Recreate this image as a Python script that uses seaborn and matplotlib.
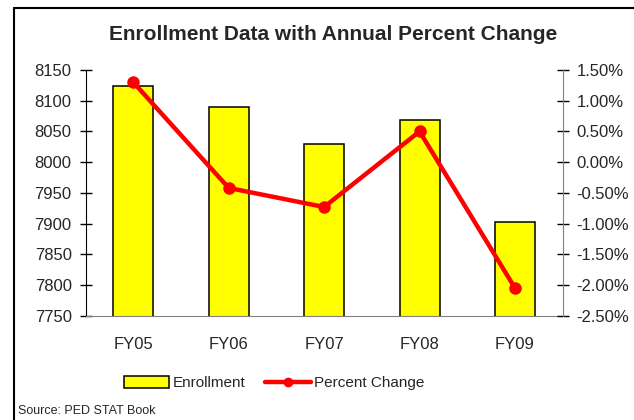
import numpy as np
import pandas as pd
import matplotlib
matplotlib.use('Agg')
import matplotlib.pyplot as plt
import seaborn as sns
from matplotlib.lines import Line2D
from matplotlib.patches import Patch
from matplotlib.ticker import FuncFormatter, MultipleLocator

# data
years = ['FY05', 'FY06', 'FY07', 'FY08', 'FY09']
enrollment = [8124, 8089, 8029, 8068, 7902]
pct_change = [1.30, -0.42, -0.73, 0.50, -2.05]

sns.set_style('white')
plt.rcParams['font.family'] = ['Liberation Sans', 'DejaVu Sans']

df = pd.DataFrame({'Year': years, 'Enrollment': enrollment, 'Pct': pct_change})
df['pos'] = np.arange(len(df))

fig = plt.figure(figsize=(6.34, 4.2), dpi=100)
ax = fig.add_axes([0.135, 0.2483, 0.7525, 0.585])

sns.barplot(data=df, x='Year', y='Enrollment', color='#ffff00', edgecolor='black',
            linewidth=1.1, width=0.42, saturation=1, ax=ax)
ax.set_ylim(7750, 8150)
ax.yaxis.set_major_locator(MultipleLocator(50))
ax.set_xlim(-0.5, 4.5)
ax.set_xlabel('')
ax.set_ylabel('')

ax2 = ax.twinx()
sns.lineplot(data=df, x='pos', y='Pct', color='#ff0000', linewidth=3.2, marker='o',
             markersize=9, markeredgewidth=0, sort=False, ax=ax2)
ax2.set_ylim(-2.5, 1.5)
ax2.yaxis.set_major_locator(MultipleLocator(0.5))
ax2.yaxis.set_major_formatter(FuncFormatter(lambda v, p: f'{v:.2f}%'))
ax2.set_ylabel('')
ax2.set_xlim(-0.5, 4.5)

# ticks
ax.set_xticks(np.arange(len(years)))
ax.set_xticklabels(years)
ax.set_xticks(np.arange(-0.5, 5, 1), minor=True)
ax.tick_params(axis='x', which='major', length=0, labelsize=12, pad=15)
ax.tick_params(axis='x', which='minor', length=8, direction='inout', color='black', width=1)
ax.tick_params(axis='y', length=8, direction='inout', color='black', width=1, labelsize=12, left=True, pad=6)
ax2.tick_params(axis='y', length=8, direction='inout', color='black', width=1, labelsize=12, right=True, pad=6)

for a in (ax, ax2):
    a.spines['top'].set_visible(False)
ax.spines['left'].set_color('black')
ax.spines['bottom'].set_color('#808080')
ax2.spines['right'].set_color('#808080')
ax2.spines['left'].set_visible(False)
ax2.spines['bottom'].set_visible(False)
ax.spines['right'].set_visible(False)
ax.set_zorder(ax2.get_zorder() - 1)
ax2.patch.set_visible(False)

fig.text(0.525, 0.918, 'Enrollment Data with Annual Percent Change', ha='center', va='center',
         fontsize=15, fontweight='bold')

handles = [Patch(facecolor='#ffff00', edgecolor='black', linewidth=1.1),
           Line2D([0], [0], color='#ff0000', linewidth=3.2, marker='o', markersize=6)]
fig.legend(handles, ['Enrollment', 'Percent Change'], loc='center', bbox_to_anchor=(0.432, 0.088),
           ncol=2, frameon=False, fontsize=11, handlelength=3.0, handleheight=0.8,
           handletextpad=0.2, columnspacing=1.3)

fig.text(0.028, 0.022, 'Source: PED STAT Book', ha='left', va='center', fontsize=9)

# chart border (left and top edges visible)
fig.add_artist(Line2D([14 / 634, 14 / 634], [0, 1 - 8 / 420], color='black', linewidth=1.5))
fig.add_artist(Line2D([14 / 634, 1], [1 - 8 / 420, 1 - 8 / 420], color='black', linewidth=1.5))

fig.savefig('out.png', dpi=100)
